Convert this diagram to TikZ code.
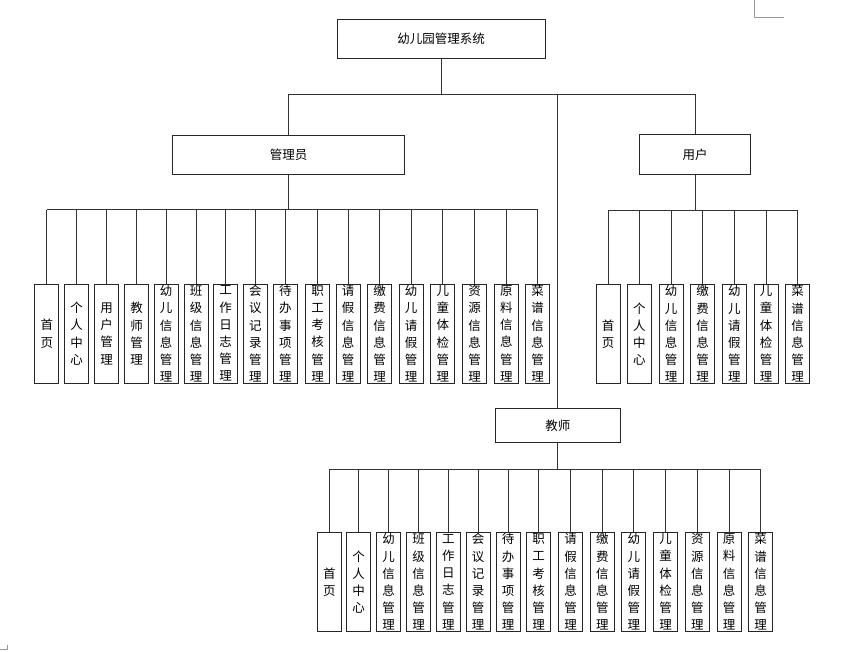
\documentclass[tikz,border=0pt]{standalone}
\usepackage{fontspec}
\newfontfamily\cjk{Noto Sans CJK SC}
\begin{document}
\begin{tikzpicture}[x=1pt,y=-1pt,
  box/.style={draw=black!85, line width=0.9pt, inner sep=0pt, align=center,
    font=\cjk\fontsize{12.5}{17.2}\selectfont},
  leaf/.style={box, minimum width=24pt, minimum height=99.5pt},
  conn/.style={draw=black!80, line width=0.8pt},
  cornermark/.style={draw=black!40, line width=0.8pt}]
\useasboundingbox (0,0) rectangle (849,651);
% corner marks
\draw[cornermark] (754,0) -- (754,17) -- (784,17);
\draw[cornermark] (0,649.5) -- (7,649.5) -- (7,645);
% main boxes
\node[box, minimum width=208pt, minimum height=39.5pt] (root) at (441,38.8) {幼儿园管理系统};
\node[box, minimum width=231.6pt, minimum height=39.3pt] (adm) at (288.5,154.6) {管理员};
\node[box, minimum width=111.4pt, minimum height=40pt] (usr) at (695,154.3) {用户};
\node[box, minimum width=125pt, minimum height=34pt] (tea) at (557.8,425.3) {教师};
% bus coordinates
\coordinate (bus0) at (0,94);
\coordinate (busA) at (0,209.5);
\coordinate (busU) at (0,210);
\coordinate (busT) at (0,469);
% admin leaves
\foreach \x/\t [count=\i] in {
  46.85/{首\\页}, 76.65/{个\\人\\中\\心}, 106.5/{用\\户\\管\\理}, 136.5/{教\\师\\管\\理},
  166.15/{幼\\儿\\信\\息\\管\\理}, 196/{班\\级\\信\\息\\管\\理}, 225.65/{工\\作\\日\\志\\管\\理},
  255.35/{会\\议\\记\\录\\管\\理}, 285.35/{待\\办\\事\\项\\管\\理}, 317.5/{职\\工\\考\\核\\管\\理},
  348.15/{请\\假\\信\\息\\管\\理}, 379.5/{缴\\费\\信\\息\\管\\理}, 411.15/{幼\\儿\\请\\假\\管\\理},
  442.85/{儿\\童\\体\\检\\管\\理}, 474.65/{资\\源\\信\\息\\管\\理}, 506.35/{原\\料\\信\\息\\管\\理},
  537.65/{菜\\谱\\信\\息\\管\\理}}
{
  \node[leaf] (a\i) at (\x,333.7) {\t};
  \draw[conn] (a\i.north) -- (a\i.north |- busA);
}
% user leaves
\foreach \x/\t [count=\i] in {
  608.2/{首\\页}, 639.3/{个\\人\\中\\心}, 671/{幼\\儿\\信\\息\\管\\理}, 702.7/{缴\\费\\信\\息\\管\\理},
  734.3/{幼\\儿\\请\\假\\管\\理}, 766/{儿\\童\\体\\检\\管\\理}, 797.7/{菜\\谱\\信\\息\\管\\理}}
{
  \node[leaf] (u\i) at (\x,334) {\t};
  \draw[conn] (u\i.north) -- (u\i.north |- busU);
}
% teacher leaves
\foreach \x/\t [count=\i] in {
  329.3/{首\\页}, 358.7/{个\\人\\中\\心}, 388.7/{幼\\儿\\信\\息\\管\\理}, 418.7/{班\\级\\信\\息\\管\\理},
  448.3/{工\\作\\日\\志\\管\\理}, 478/{会\\议\\记\\录\\管\\理}, 508/{待\\办\\事\\项\\管\\理},
  538.7/{职\\工\\考\\核\\管\\理}, 570.7/{请\\假\\信\\息\\管\\理}, 602.3/{缴\\费\\信\\息\\管\\理},
  633.8/{幼\\儿\\请\\假\\管\\理}, 665.5/{儿\\童\\体\\检\\管\\理}, 697.3/{资\\源\\信\\息\\管\\理},
  729/{原\\料\\信\\息\\管\\理}, 760.5/{菜\\谱\\信\\息\\管\\理}}
{
  \node[leaf] (t\i) at (\x,582) {\t};
  \draw[conn] (t\i.north) -- (t\i.north |- busT);
}
% top level connectors
\draw[conn] (root.south) -- (root.south |- bus0);
\draw[conn] (adm.north |- bus0) -- (usr.north |- bus0);
\draw[conn] (adm.north) -- (adm.north |- bus0);
\draw[conn] (usr.north) -- (usr.north |- bus0);
\draw[conn] (tea.north) -- (tea.north |- bus0);
% second level buses
\draw[conn] (adm.south) -- (adm.south |- busA);
\draw[conn] (a1.north |- busA) -- (a17.north |- busA);
\draw[conn] (usr.south) -- (usr.south |- busU);
\draw[conn] (u1.north |- busU) -- (u7.north |- busU);
\draw[conn] (tea.south) -- (tea.south |- busT);
\draw[conn] (t1.north |- busT) -- (t15.north |- busT);
\end{tikzpicture}
\end{document}
